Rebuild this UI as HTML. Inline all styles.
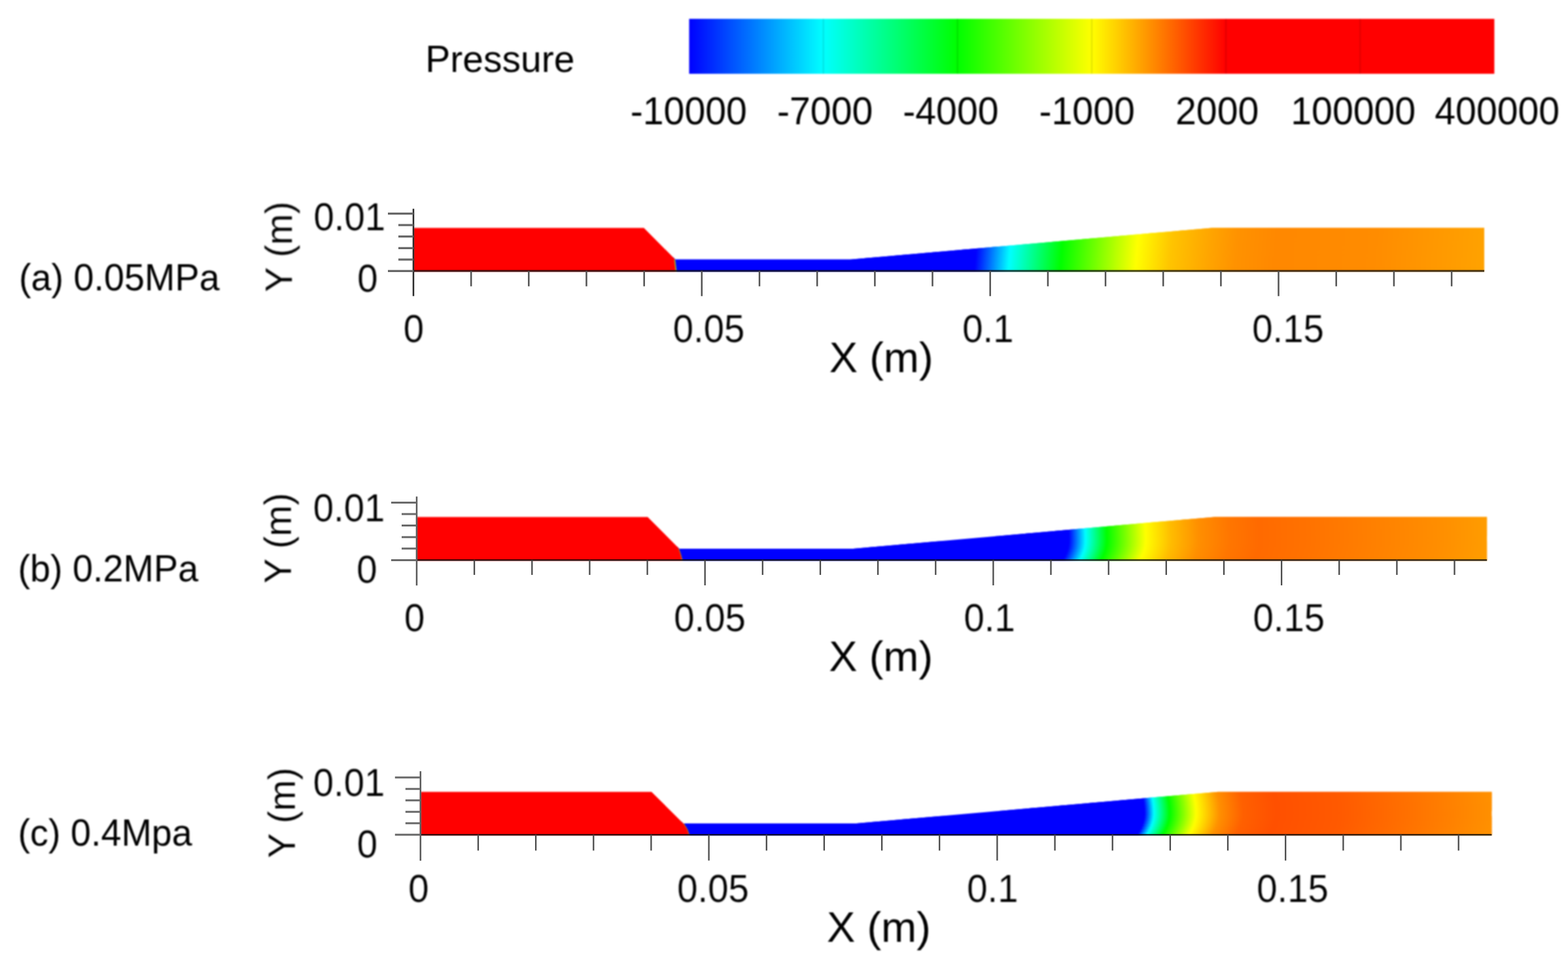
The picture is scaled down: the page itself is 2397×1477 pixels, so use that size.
<!DOCTYPE html>
<html lang="en">
<head>
<meta charset="utf-8">
<title>Pressure contours at different inlet pressures</title>
<style>
html,body{margin:0;padding:0;background:#fff;}
body{width:2397px;height:1477px;overflow:hidden;}
svg{display:block;}
text{font-family:"Liberation Sans", sans-serif;fill:#000;}
text.ax{stroke:#fff;stroke-width:0.2px;}
</style>
</head>
<body>
<svg width="2397" height="1477" viewBox="0 0 2397 1477">
<defs>
<filter id="bt" filterUnits="userSpaceOnUse" x="0" y="0" width="2397" height="1477" color-interpolation-filters="sRGB"><feGaussianBlur stdDeviation="0.9"/></filter>
<filter id="bc" filterUnits="userSpaceOnUse" x="0" y="0" width="2397" height="1477" color-interpolation-filters="sRGB"><feGaussianBlur stdDeviation="0.9"/></filter>
<linearGradient id="cb" gradientUnits="userSpaceOnUse" x1="1053.5" y1="0" x2="2284.4" y2="0">
<stop offset="0" stop-color="#0000ff"/>
<stop offset="0.16667" stop-color="#00ffff"/>
<stop offset="0.33333" stop-color="#00ff00"/>
<stop offset="0.50000" stop-color="#ffff00"/>
<stop offset="0.66667" stop-color="#ff0000"/>
<stop offset="1" stop-color="#ff0000"/>
</linearGradient>
<filter id="b0" filterUnits="userSpaceOnUse" x="0" y="0" width="2397" height="1477" color-interpolation-filters="sRGB"><feGaussianBlur stdDeviation="0.95"/></filter>
<linearGradient id="g0" gradientUnits="userSpaceOnUse" x1="632" y1="0" x2="2269" y2="0"><stop offset="0.00000" stop-color="#0000ff"/><stop offset="0.52535" stop-color="#0000ff"/><stop offset="0.55712" stop-color="#00ffff"/><stop offset="0.60538" stop-color="#00ff00"/><stop offset="0.67563" stop-color="#ffff00"/><stop offset="0.70739" stop-color="#ffc400"/><stop offset="0.74404" stop-color="#ffa400"/><stop offset="0.76848" stop-color="#ff9200"/><stop offset="0.80513" stop-color="#ff8800"/><stop offset="0.89676" stop-color="#ff8c00"/><stop offset="1.00000" stop-color="#ffa200"/></linearGradient>
<clipPath id="c0"><polygon points="632,414.90000000000003 632,348.4 984.3,348.4 1032.3,396.8 1300,396.8 1852.5,348.4 2269,348.4 2269,414.90000000000003"/></clipPath>
<linearGradient id="g0_0" href="#g0" gradientTransform="translate(2.83 0)"/>
<linearGradient id="g0_1" href="#g0" gradientTransform="translate(2.48 0)"/>
<linearGradient id="g0_2" href="#g0" gradientTransform="translate(2.14 0)"/>
<linearGradient id="g0_3" href="#g0" gradientTransform="translate(1.80 0)"/>
<linearGradient id="g0_4" href="#g0" gradientTransform="translate(1.45 0)"/>
<linearGradient id="g0_5" href="#g0" gradientTransform="translate(1.11 0)"/>
<linearGradient id="g0_6" href="#g0" gradientTransform="translate(0.77 0)"/>
<linearGradient id="g0_7" href="#g0" gradientTransform="translate(0.42 0)"/>
<linearGradient id="g0_8" href="#g0" gradientTransform="translate(0.08 0)"/>
<linearGradient id="g0_9" href="#g0" gradientTransform="translate(-0.27 0)"/>
<linearGradient id="g0_10" href="#g0" gradientTransform="translate(-0.61 0)"/>
<linearGradient id="g0_11" href="#g0" gradientTransform="translate(-0.95 0)"/>
<linearGradient id="g0_12" href="#g0" gradientTransform="translate(-1.30 0)"/>
<linearGradient id="g0_13" href="#g0" gradientTransform="translate(-1.64 0)"/>
<linearGradient id="g0_14" href="#g0" gradientTransform="translate(-1.98 0)"/>
<linearGradient id="g0_15" href="#g0" gradientTransform="translate(-2.33 0)"/>
<filter id="b1" filterUnits="userSpaceOnUse" x="0" y="0" width="2397" height="1477" color-interpolation-filters="sRGB"><feGaussianBlur stdDeviation="0.9"/></filter>
<linearGradient id="g1" gradientUnits="userSpaceOnUse" x1="637" y1="0" x2="2273.1" y2="0"><stop offset="0.00000" stop-color="#0000ff"/><stop offset="0.60938" stop-color="#0000ff"/><stop offset="0.62496" stop-color="#00ffff"/><stop offset="0.64483" stop-color="#00ff00"/><stop offset="0.68119" stop-color="#ffff00"/><stop offset="0.70472" stop-color="#ffbc00"/><stop offset="0.73162" stop-color="#ff8e00"/><stop offset="0.75973" stop-color="#ff7600"/><stop offset="0.78724" stop-color="#ff6a00"/><stop offset="0.83308" stop-color="#ff7200"/><stop offset="0.89420" stop-color="#ff8000"/><stop offset="0.95532" stop-color="#ff8e00"/><stop offset="1.00000" stop-color="#ff9c00"/></linearGradient>
<clipPath id="c1"><polygon points="637,857.0 637,790.4 990.1,790.4 1038.3,839.0 1304,839.0 1856.5,790.4 2273.1,790.4 2273.1,857.0"/></clipPath>
<linearGradient id="g1_0" href="#g1" gradientTransform="translate(-1.78 0)"/>
<linearGradient id="g1_1" href="#g1" gradientTransform="translate(-1.38 0)"/>
<linearGradient id="g1_2" href="#g1" gradientTransform="translate(-1.03 0)"/>
<linearGradient id="g1_3" href="#g1" gradientTransform="translate(-0.73 0)"/>
<linearGradient id="g1_4" href="#g1" gradientTransform="translate(-0.48 0)"/>
<linearGradient id="g1_5" href="#g1" gradientTransform="translate(-0.28 0)"/>
<linearGradient id="g1_6" href="#g1" gradientTransform="translate(-0.14 0)"/>
<linearGradient id="g1_9" href="#g1" gradientTransform="translate(-0.09 0)"/>
<linearGradient id="g1_10" href="#g1" gradientTransform="translate(-0.50 0)"/>
<linearGradient id="g1_11" href="#g1" gradientTransform="translate(-1.27 0)"/>
<linearGradient id="g1_12" href="#g1" gradientTransform="translate(-2.38 0)"/>
<linearGradient id="g1_13" href="#g1" gradientTransform="translate(-3.84 0)"/>
<linearGradient id="g1_14" href="#g1" gradientTransform="translate(-5.64 0)"/>
<linearGradient id="g1_15" href="#g1" gradientTransform="translate(-7.79 0)"/>
<filter id="b2" filterUnits="userSpaceOnUse" x="0" y="0" width="2397" height="1477" color-interpolation-filters="sRGB"><feGaussianBlur stdDeviation="0.9"/></filter>
<linearGradient id="g2" gradientUnits="userSpaceOnUse" x1="642.8" y1="0" x2="2280.4" y2="0"><stop offset="0.00000" stop-color="#0000ff"/><stop offset="0.67581" stop-color="#0000ff"/><stop offset="0.68466" stop-color="#00ffff"/><stop offset="0.69932" stop-color="#00ff00"/><stop offset="0.72405" stop-color="#ffff00"/><stop offset="0.74573" stop-color="#ff9000"/><stop offset="0.76771" stop-color="#ff6000"/><stop offset="0.79824" stop-color="#ff5000"/><stop offset="0.85931" stop-color="#ff5a00"/><stop offset="0.92037" stop-color="#ff7000"/><stop offset="1.00000" stop-color="#ff9000"/></linearGradient>
<clipPath id="c2"><polygon points="642.8,1276.8999999999999 642.8,1210.7 995.95,1210.7 1044.5,1258.9 1309,1258.9 1862,1210.7 2280.4,1210.7 2280.4,1276.8999999999999"/></clipPath>
<linearGradient id="g2_0" href="#g2" gradientTransform="translate(-4.39 0)"/>
<linearGradient id="g2_1" href="#g2" gradientTransform="translate(-3.30 0)"/>
<linearGradient id="g2_2" href="#g2" gradientTransform="translate(-2.36 0)"/>
<linearGradient id="g2_3" href="#g2" gradientTransform="translate(-1.58 0)"/>
<linearGradient id="g2_4" href="#g2" gradientTransform="translate(-0.96 0)"/>
<linearGradient id="g2_5" href="#g2" gradientTransform="translate(-0.49 0)"/>
<linearGradient id="g2_6" href="#g2" gradientTransform="translate(-0.18 0)"/>
<linearGradient id="g2_9" href="#g2" gradientTransform="translate(-0.39 0)"/>
<linearGradient id="g2_10" href="#g2" gradientTransform="translate(-1.07 0)"/>
<linearGradient id="g2_11" href="#g2" gradientTransform="translate(-2.11 0)"/>
<linearGradient id="g2_12" href="#g2" gradientTransform="translate(-3.48 0)"/>
<linearGradient id="g2_13" href="#g2" gradientTransform="translate(-5.20 0)"/>
<linearGradient id="g2_14" href="#g2" gradientTransform="translate(-7.26 0)"/>
<linearGradient id="g2_15" href="#g2" gradientTransform="translate(-9.67 0)"/>
</defs>
<rect width="2397" height="1477" fill="#fff"/>
<g id="legend" filter="url(#bc)">
<rect x="1053.5" y="28.8" width="1230.9" height="84.0" fill="url(#cb)"/>
<path d="M1258.7 28.8V112.8M1463.8 28.8V112.8M1669.0 28.8V112.8M1874.1 28.8V112.8M2079.2 28.8V112.8" stroke="#000" stroke-opacity="0.1" stroke-width="2.4" fill="none"/>
</g>
<g id="panel-a" filter="url(#b0)">
<g clip-path="url(#c0)">
<rect x="1028.9" y="346.4" width="1242.1" height="70.5" fill="url(#g0)"/>
<rect x="1028.9" y="347.90" width="1242.1" height="5.16" fill="url(#g0_0)"/>
<rect x="1028.9" y="352.06" width="1242.1" height="5.16" fill="url(#g0_1)"/>
<rect x="1028.9" y="356.21" width="1242.1" height="5.16" fill="url(#g0_2)"/>
<rect x="1028.9" y="360.37" width="1242.1" height="5.16" fill="url(#g0_3)"/>
<rect x="1028.9" y="364.52" width="1242.1" height="5.16" fill="url(#g0_4)"/>
<rect x="1028.9" y="368.68" width="1242.1" height="5.16" fill="url(#g0_5)"/>
<rect x="1028.9" y="372.84" width="1242.1" height="5.16" fill="url(#g0_6)"/>
<rect x="1028.9" y="376.99" width="1242.1" height="5.16" fill="url(#g0_7)"/>
<rect x="1028.9" y="381.15" width="1242.1" height="5.16" fill="url(#g0_8)"/>
<rect x="1028.9" y="385.31" width="1242.1" height="5.16" fill="url(#g0_9)"/>
<rect x="1028.9" y="389.46" width="1242.1" height="5.16" fill="url(#g0_10)"/>
<rect x="1028.9" y="393.62" width="1242.1" height="5.16" fill="url(#g0_11)"/>
<rect x="1028.9" y="397.78" width="1242.1" height="5.16" fill="url(#g0_12)"/>
<rect x="1028.9" y="401.93" width="1242.1" height="5.16" fill="url(#g0_13)"/>
<rect x="1028.9" y="406.09" width="1242.1" height="5.16" fill="url(#g0_14)"/>
<rect x="1028.9" y="410.24" width="1242.1" height="5.16" fill="url(#g0_15)"/>
<path d="M632 414.90000000000003V347.4H1032.3L1031.4 396.8Q1032.5 405.5 1033.6 414.90000000000003Z" fill="#ff0000"/>
<path d="M1031.4 396.8Q1032.5 405.5 1033.6 414.90000000000003" fill="none" stroke="#9ad020" stroke-width="1.6"/>
</g>
</g>
<g id="axes-a">
<line x1="631" y1="414.3" x2="2269" y2="414.3" stroke="#000" stroke-opacity="0.7" stroke-width="3.0"/>
<line x1="632" y1="319.2" x2="632" y2="452.7" stroke="#2a2a2a" stroke-width="2.5"/>
<path d="M720.2 414.3V437.7M808.3 414.3V437.7M896.5 414.3V437.7M984.7 414.3V437.7M1072.8 414.3V452.7M1161.0 414.3V437.7M1249.2 414.3V437.7M1337.4 414.3V437.7M1425.5 414.3V437.7M1513.7 414.3V452.7M1601.9 414.3V437.7M1690.0 414.3V437.7M1778.2 414.3V437.7M1866.4 414.3V437.7M1954.5 414.3V452.7M2042.7 414.3V437.7M2130.9 414.3V437.7M2219.1 414.3V437.7" stroke="#545454" stroke-width="2.5" fill="none"/>
<path d="M593.0 414.3H632M609.0 396.8H632M609.0 379.3H632M609.0 361.7H632M609.0 344.2H632M593.0 326.7H632" stroke="#686868" stroke-width="3.2" fill="none"/>
</g>
<g id="panel-b" filter="url(#b1)">
<g clip-path="url(#c1)">
<rect x="1035.1" y="788.4" width="1240.0" height="70.6" fill="url(#g1)"/>
<rect x="1035.1" y="789.90" width="1240.0" height="5.16" fill="url(#g1_0)"/>
<rect x="1035.1" y="794.06" width="1240.0" height="5.16" fill="url(#g1_1)"/>
<rect x="1035.1" y="798.23" width="1240.0" height="5.16" fill="url(#g1_2)"/>
<rect x="1035.1" y="802.39" width="1240.0" height="5.16" fill="url(#g1_3)"/>
<rect x="1035.1" y="806.55" width="1240.0" height="5.16" fill="url(#g1_4)"/>
<rect x="1035.1" y="810.71" width="1240.0" height="5.16" fill="url(#g1_5)"/>
<rect x="1035.1" y="814.88" width="1240.0" height="5.16" fill="url(#g1_6)"/>
<rect x="1035.1" y="827.36" width="1240.0" height="5.16" fill="url(#g1_9)"/>
<rect x="1035.1" y="831.52" width="1240.0" height="5.16" fill="url(#g1_10)"/>
<rect x="1035.1" y="835.69" width="1240.0" height="5.16" fill="url(#g1_11)"/>
<rect x="1035.1" y="839.85" width="1240.0" height="5.16" fill="url(#g1_12)"/>
<rect x="1035.1" y="844.01" width="1240.0" height="5.16" fill="url(#g1_13)"/>
<rect x="1035.1" y="848.17" width="1240.0" height="5.16" fill="url(#g1_14)"/>
<rect x="1035.1" y="852.34" width="1240.0" height="5.16" fill="url(#g1_15)"/>
<path d="M637 857.0V789.4H1038.3L1037.6 839.0Q1041.0 847.7 1043.0 857.0Z" fill="#ff0000"/>
<path d="M1037.6 839.0Q1041.0 847.7 1043.0 857.0" fill="none" stroke="#c0a000" stroke-width="1.0"/>
</g>
</g>
<g id="axes-b">
<line x1="636" y1="856.4" x2="2273.1" y2="856.4" stroke="#000" stroke-opacity="0.85" stroke-width="2.3"/>
<line x1="637" y1="759.2" x2="637" y2="895.2" stroke="#5a5a5a" stroke-width="2.5"/>
<path d="M725.1 856.4V878.9M813.3 856.4V878.9M901.4 856.4V878.9M989.6 856.4V878.9M1077.7 856.4V895.0M1165.8 856.4V878.9M1254.0 856.4V878.9M1342.1 856.4V878.9M1430.3 856.4V878.9M1518.4 856.4V895.0M1606.5 856.4V878.9M1694.7 856.4V878.9M1782.8 856.4V878.9M1871.0 856.4V878.9M1959.1 856.4V895.0M2047.2 856.4V878.9M2135.4 856.4V878.9M2223.5 856.4V878.9" stroke="#4c4c4c" stroke-width="2.3" fill="none"/>
<path d="M598.0 856.4H637M614.0 838.8H637M614.0 821.2H637M614.0 803.6H637M614.0 786.0H637M598.0 768.4H637" stroke="#6a6a6a" stroke-width="3.0" fill="none"/>
</g>
<g id="panel-c" filter="url(#b2)">
<g clip-path="url(#c2)">
<rect x="1042.0" y="1208.7" width="1240.4" height="70.2" fill="url(#g2)"/>
<rect x="1042.0" y="1210.20" width="1240.4" height="5.14" fill="url(#g2_0)"/>
<rect x="1042.0" y="1214.34" width="1240.4" height="5.14" fill="url(#g2_1)"/>
<rect x="1042.0" y="1218.47" width="1240.4" height="5.14" fill="url(#g2_2)"/>
<rect x="1042.0" y="1222.61" width="1240.4" height="5.14" fill="url(#g2_3)"/>
<rect x="1042.0" y="1226.75" width="1240.4" height="5.14" fill="url(#g2_4)"/>
<rect x="1042.0" y="1230.89" width="1240.4" height="5.14" fill="url(#g2_5)"/>
<rect x="1042.0" y="1235.03" width="1240.4" height="5.14" fill="url(#g2_6)"/>
<rect x="1042.0" y="1247.44" width="1240.4" height="5.14" fill="url(#g2_9)"/>
<rect x="1042.0" y="1251.57" width="1240.4" height="5.14" fill="url(#g2_10)"/>
<rect x="1042.0" y="1255.71" width="1240.4" height="5.14" fill="url(#g2_11)"/>
<rect x="1042.0" y="1259.85" width="1240.4" height="5.14" fill="url(#g2_12)"/>
<rect x="1042.0" y="1263.99" width="1240.4" height="5.14" fill="url(#g2_13)"/>
<rect x="1042.0" y="1268.12" width="1240.4" height="5.14" fill="url(#g2_14)"/>
<rect x="1042.0" y="1272.26" width="1240.4" height="5.14" fill="url(#g2_15)"/>
<path d="M642.8 1276.8999999999999V1209.7H1044.5L1045.0 1258.9Q1052.0 1268.5 1053.6 1276.8999999999999Z" fill="#ff0000"/>
<path d="M1045.0 1258.9Q1052.0 1268.5 1053.6 1276.8999999999999" fill="none" stroke="#c0a000" stroke-width="1.0"/>
</g>
</g>
<g id="axes-c">
<line x1="641.8" y1="1276.3" x2="2280.4" y2="1276.3" stroke="#000" stroke-opacity="0.85" stroke-width="2.3"/>
<line x1="642.8" y1="1179.2" x2="642.8" y2="1316" stroke="#5a5a5a" stroke-width="2.5"/>
<path d="M731.0 1276.3V1300.6M819.1 1276.3V1300.6M907.3 1276.3V1300.6M995.4 1276.3V1300.6M1083.6 1276.3V1315.8M1171.8 1276.3V1300.6M1259.9 1276.3V1300.6M1348.1 1276.3V1300.6M1436.2 1276.3V1300.6M1524.4 1276.3V1315.8M1612.6 1276.3V1300.6M1700.7 1276.3V1300.6M1788.9 1276.3V1300.6M1877.0 1276.3V1300.6M1965.2 1276.3V1315.8M2053.4 1276.3V1300.6M2141.5 1276.3V1300.6M2229.7 1276.3V1300.6" stroke="#4c4c4c" stroke-width="2.3" fill="none"/>
<path d="M603.8 1276.3H642.8M619.8 1258.8H642.8M619.8 1241.3H642.8M619.8 1223.7H642.8M619.8 1206.2H642.8M603.8 1188.7H642.8" stroke="#6a6a6a" stroke-width="3.0" fill="none"/>
</g>
<g id="labels" filter="url(#bt)">
<text class="cap" font-size="57.6" transform="translate(650.25 109.75) scale(0.99 1)">Pressure</text>
<text class="cap" font-size="58.4" transform="translate(963.75 190) scale(0.98 1)">-10000</text>
<text class="cap" font-size="58.4" transform="translate(1188 190) scale(0.98 1)">-7000</text>
<text class="cap" font-size="58.4" transform="translate(1380.25 190) scale(0.98 1)">-4000</text>
<text class="cap" font-size="58.4" transform="translate(1588.5 190) scale(0.98 1)">-1000</text>
<text class="cap" font-size="58.4" transform="translate(1797 190) scale(0.98 1)">2000</text>
<text class="cap" font-size="58.4" transform="translate(1973.25 190) scale(0.98 1)">100000</text>
<text class="cap" font-size="58.4" transform="translate(2193.25 190) scale(0.98 1)">400000</text>
<text class="cap" font-size="56.6" transform="translate(29 444) scale(0.985 1)">(a) 0.05MPa</text>
<text class="cap" font-size="56.6" transform="translate(27.5 888.5) scale(0.985 1)">(b) 0.2MPa</text>
<text class="cap" font-size="56.6" transform="translate(27.5 1292.75) scale(0.985 1)">(c) 0.4Mpa</text>
<text class="cap" x="1267.75" y="569.25" font-size="65">X (m)</text>
<text class="cap" x="1267.25" y="1026" font-size="65">X (m)</text>
<text class="cap" x="1264" y="1440" font-size="65">X (m)</text>
<text class="ax" font-size="57.1" transform="translate(446.25 446.5) rotate(-90)">Y (m)</text>
<text class="ax" font-size="59.3" transform="translate(479.5 351.5) scale(0.95 1)">0.01</text>
<text class="ax" font-size="59.3" transform="translate(546.25 445.5) scale(0.95 1)">0</text>
<text class="ax" font-size="59.3" transform="translate(616.75 522.5) scale(0.95 1)">0</text>
<text class="ax" font-size="59.3" transform="translate(1028.75 522.5) scale(0.95 1)">0.05</text>
<text class="ax" font-size="59.3" transform="translate(1471.25 522.5) scale(0.95 1)">0.1</text>
<text class="ax" font-size="59.3" transform="translate(1914.25 522.5) scale(0.95 1)">0.15</text>
<text class="ax" font-size="57.1" transform="translate(444.75 892) rotate(-90)">Y (m)</text>
<text class="ax" font-size="59.3" transform="translate(478.75 797.25) scale(0.95 1)">0.01</text>
<text class="ax" font-size="59.3" transform="translate(545.25 891) scale(0.95 1)">0</text>
<text class="ax" font-size="59.3" transform="translate(618 965) scale(0.95 1)">0</text>
<text class="ax" font-size="59.3" transform="translate(1030.25 965) scale(0.95 1)">0.05</text>
<text class="ax" font-size="59.3" transform="translate(1473.5 965) scale(0.95 1)">0.1</text>
<text class="ax" font-size="59.3" transform="translate(1915.5 965) scale(0.95 1)">0.15</text>
<text class="ax" font-size="57.1" transform="translate(450.75 1312) rotate(-90)">Y (m)</text>
<text class="ax" font-size="59.3" transform="translate(478.75 1216.5) scale(0.95 1)">0.01</text>
<text class="ax" font-size="59.3" transform="translate(545.75 1310.5) scale(0.95 1)">0</text>
<text class="ax" font-size="59.3" transform="translate(624.25 1379.25) scale(0.95 1)">0</text>
<text class="ax" font-size="59.3" transform="translate(1035.25 1379.25) scale(0.95 1)">0.05</text>
<text class="ax" font-size="59.3" transform="translate(1478.25 1379.25) scale(0.95 1)">0.1</text>
<text class="ax" font-size="59.3" transform="translate(1921.25 1379.25) scale(0.95 1)">0.15</text>
</g>
</svg>
</body>
</html>
